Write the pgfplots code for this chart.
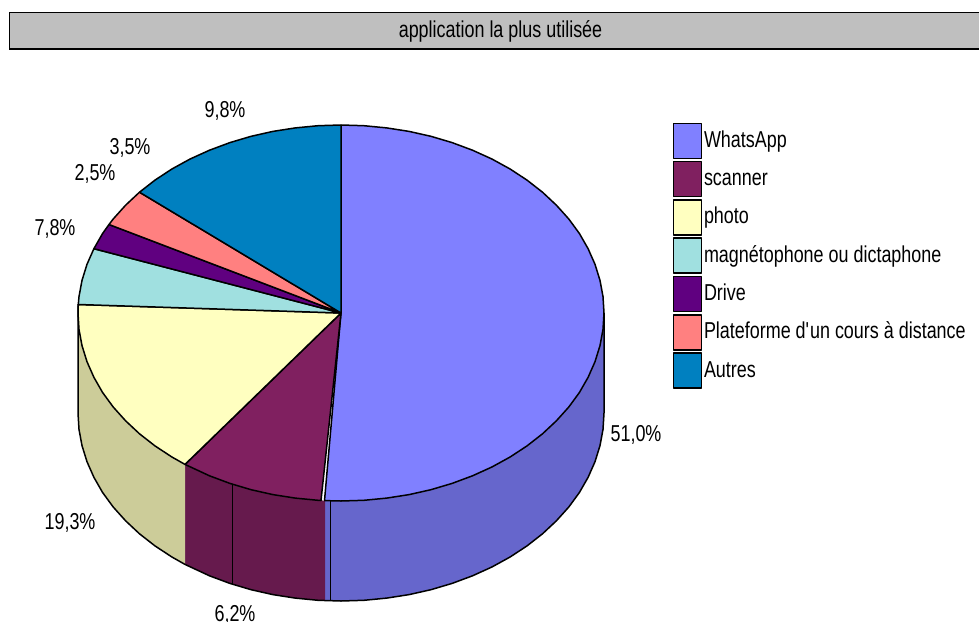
\documentclass[border=0pt]{standalone}
\usepackage{fontspec}
\setmainfont[FakeStretch=0.78]{Liberation Sans}
\usepackage{pgfplots}
\pgfplotsset{compat=1.18}
\definecolor{whats}{HTML}{8080FF}
\definecolor{whatsside}{HTML}{6666CC}
\definecolor{scan}{HTML}{802060}
\definecolor{scanside}{HTML}{661A4D}
\definecolor{phot}{HTML}{FFFFC0}
\definecolor{photside}{HTML}{CCCC99}
\definecolor{magn}{HTML}{A0E0E0}
\definecolor{driv}{HTML}{600080}
\definecolor{plat}{HTML}{FF8080}
\definecolor{autr}{HTML}{0080C0}
\newcommand{\lab}{\fontsize{23}{25}\selectfont}

\begin{document}
\begin{tikzpicture}
\useasboundingbox (0,0) rectangle (979pt,621pt);
\begin{axis}[
    at={(0,0)}, anchor=south west,
    scale only axis,
    width=979pt,
    height=621pt,
    xmin=0, xmax=979,
    ymin=0, ymax=621,
    y dir=reverse,
    axis lines=none,
    clip=false,
    no markers,
    line join=bevel,
    legend cell align=left,
    legend style={
        at={(axis cs:672.5,122.5)}, anchor=north west,
        draw=none, fill=none, inner sep=0pt, outer sep=0pt,
        row sep=1.8pt, font=\lab,
        nodes={text height=19pt, text depth=6pt},
        /tikz/every even column/.append style={column sep=8pt},
    },
    legend image code/.code={
        \draw[#1, line width=1.5pt] (0pt,-17.5pt) rectangle (28pt,17.5pt);
    },
]
% title band
\fill[fill=black!25] (axis cs:9,12) rectangle (axis cs:979,49);
\draw[black, line width=1pt] (axis cs:979,12) -- (axis cs:9,12) -- (axis cs:9,49);
\draw[black, line width=1.6pt] (axis cs:9,49) -- (axis cs:979,49);
\node[font=\lab] at (axis cs:500.5,31) {application la plus utilisée};

% side walls
\addplot[forget plot, fill=whatsside, draw=none] coordinates {
    (604,313) (603,329.4) (600,345.6) (595,361.7) (588.1,377.3) (579.4,392.5)
    (568.8,407) (556.4,420.8) (542.5,433.8) (527,445.9) (510.1,457) (491.9,467)
    (472.5,475.8) (452.1,483.4) (430.9,489.7) (409.1,494.6) (386.7,498.1)
    (363.9,500.3) (341,501) (325,500.6)
    (325,600.6) (341,601) (363.9,600.3) (386.7,598.1) (409.1,594.6) (430.9,589.7)
    (452.1,583.4) (472.5,575.8) (491.9,567) (510.1,557) (527,545.9) (542.5,533.8)
    (556.4,520.8) (568.8,507) (579.4,492.5) (588.1,477.3) (595,461.7) (600,445.6)
    (603,429.4) (604,413)
} -- cycle;
\addplot[forget plot, fill=scanside, draw=none] coordinates {
    (325,500.6) (318.1,500.3) (295.3,498.1) (272.9,494.6) (251.1,489.7) (229.9,483.4)
    (209.5,475.8) (185,464.4)
    (185,564.4) (209.5,575.8) (229.9,583.4) (251.1,589.7) (272.9,594.6) (295.3,598.1)
    (318.1,600.3) (325,600.6)
} -- cycle;
\addplot[forget plot, fill=photside, draw=none] coordinates {
    (185,464.4) (171.9,457) (155,445.9) (139.5,433.8) (125.6,420.8) (113.2,407)
    (102.6,392.5) (93.9,377.3) (87,361.7) (82,345.6) (79,329.4) (78,313)
    (78,413) (79,429.4) (82,445.6) (87,461.7) (93.9,477.3) (102.6,492.5) (113.2,507)
    (125.6,520.8) (139.5,533.8) (155,545.9) (171.9,557) (185,564.4)
} -- cycle;
% outer outline of the walls
\addplot[forget plot, black, line width=1.5pt] coordinates {
    (78,304) (78,413) (79,429.4) (82,445.6) (87,461.7) (93.9,477.3) (102.6,492.5)
    (113.2,507) (125.6,520.8) (139.5,533.8) (155,545.9) (171.9,557) (185,564.4)
    (209.5,575.8) (229.9,583.4) (251.1,589.7) (272.9,594.6) (295.3,598.1)
    (318.1,600.3) (341,601) (363.9,600.3) (386.7,598.1) (409.1,594.6) (430.9,589.7)
    (452.1,583.4) (472.5,575.8) (491.9,567) (510.1,557) (527,545.9) (542.5,533.8)
    (556.4,520.8) (568.8,507) (579.4,492.5) (588.1,477.3) (595,461.7) (600,445.6)
    (603,429.4) (604,413) (604,313)
};
% creases on the walls
\addplot[forget plot, black, line width=1pt] coordinates {(232,484) (232,585)};
\addplot[forget plot, black, line width=1pt] coordinates {(330,500) (330,601)};

% top of the pie
\addplot[fill=whats, draw=black, line width=1.5pt] coordinates {
    (341,313) (341,125) (363.9,125.7) (386.7,127.9) (409.1,131.4) (430.9,136.3)
    (452.1,142.6) (472.5,150.2) (491.9,159) (510.1,169) (527,180.1) (542.5,192.2)
    (556.4,205.2) (568.8,219) (579.4,233.5) (588.1,248.7) (595,264.3) (600,280.4)
    (603,296.6) (604,313) (603,329.4) (600,345.6) (595,361.7) (588.1,377.3)
    (579.4,392.5) (568.8,407) (556.4,420.8) (542.5,433.8) (527,445.9) (510.1,457)
    (491.9,467) (472.5,475.8) (452.1,483.4) (430.9,489.7) (409.1,494.6) (386.7,498.1)
    (363.9,500.3) (341,501) (324.5,500.6)
} -- cycle;
\addplot[fill=scan, draw=black, line width=1.5pt] coordinates {
    (341,313) (321,500.5) (318.1,500.3) (295.3,498.1) (272.9,494.6) (251.1,489.7)
    (229.9,483.4) (209.5,475.8) (185,464.4)
} -- cycle;
\addplot[fill=phot, draw=black, line width=1.5pt] coordinates {
    (341,313) (185,464.4) (171.9,457) (155,445.9) (139.5,433.8) (125.6,420.8)
    (113.2,407) (102.6,392.5) (93.9,377.3) (87,361.7) (82,345.6) (79,329.4)
    (78,313) (78.3,304.5)
} -- cycle;
\addplot[fill=magn, draw=black, line width=1.5pt] coordinates {
    (341,313) (78.3,304.5) (79,296.6) (82,280.4) (87,264.3) (93.9,248.7)
} -- cycle;
\addplot[fill=driv, draw=black, line width=1.5pt] coordinates {
    (341,313) (93.9,248.7) (102.6,233.5) (109,224.5)
} -- cycle;
\addplot[fill=plat, draw=black, line width=1.5pt] coordinates {
    (341,313) (109,224.5) (113.2,219) (125.6,205.2) (139.5,192.2)
} -- cycle;
\addplot[fill=autr, draw=black, line width=1.5pt] coordinates {
    (341,313) (139.5,192.2) (155,180.1) (171.9,169) (190.1,159) (209.5,150.2)
    (229.9,142.6) (251.1,136.3) (272.9,131.4) (295.3,127.9) (318.1,125.7) (341,125)
} -- cycle;

\legend{WhatsApp, scanner, photo, magnétophone ou dictaphone, Drive, Plateforme d\textquotesingle un cours à distance, Autres}

% percentage labels
\node[font=\lab] at (axis cs:225,111) {9,8\%};
\node[font=\lab] at (axis cs:130,148) {3,5\%};
\node[font=\lab] at (axis cs:95,174) {2,5\%};
\node[font=\lab] at (axis cs:55,229) {7,8\%};
\node[font=\lab] at (axis cs:636,435) {51,0\%};
\node[font=\lab] at (axis cs:70,523) {19,3\%};
\node[font=\lab, inner sep=0pt, anchor=base] at (axis cs:235,621) {\smash{6,2\%}};
\end{axis}
\end{tikzpicture}
\end{document}
